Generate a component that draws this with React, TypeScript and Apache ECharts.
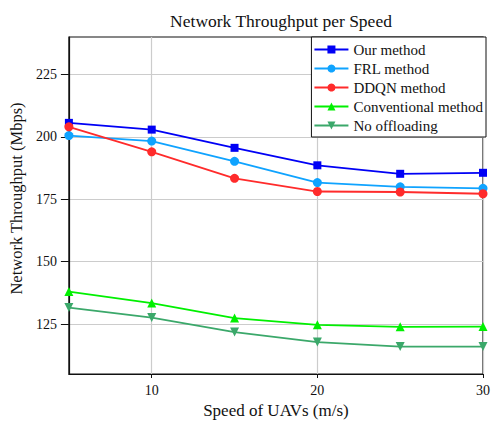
import React, { useEffect, useRef } from "react";
import * as echarts from "echarts";

const speeds = [5, 10, 15, 20, 25, 30];
const ourMethod = [205.6, 202.9, 195.6, 188.6, 185.2, 185.6];
const frlMethod = [200.5, 198.3, 190.2, 181.7, 180.0, 179.4];
const ddqnMethod = [204.0, 194.0, 183.4, 178.1, 177.9, 177.2];
const conventional = [138.0, 133.4, 127.4, 124.7, 123.9, 124.0];
const noOffloading = [131.6, 127.6, 121.8, 117.8, 116.0, 116.0];

const xTicks = [10, 20, 30];
const yTicks = [125, 150, 175, 200, 225];

const FONT = "Liberation Serif";

const seriesDefs = [
  { name: "Our method", data: ourMethod, color: "#0000F5", symbol: "rect", rotate: 0, size: 8 },
  { name: "FRL method", data: frlMethod, color: "#0FA3FF", symbol: "circle", rotate: 0, size: 9 },
  { name: "DDQN method", data: ddqnMethod, color: "#FF2B2B", symbol: "circle", rotate: 0, size: 9 },
  { name: "Conventional method", data: conventional, color: "#00F000", symbol: "triangle", rotate: 0, size: 9 },
  { name: "No offloading", data: noOffloading, color: "#3BA86A", symbol: "triangle", rotate: 180, size: 9 },
];

export default function App() {
  const ref = useRef<HTMLDivElement>(null);

  useEffect(() => {
    if (!ref.current) return;
    const chart = echarts.init(ref.current, null, { renderer: "svg" });
    const labelStyle = { fontFamily: FONT, fontSize: 14, color: "#111" };
    chart.setOption({
      animation: false,
      backgroundColor: "#ffffff",
      textStyle: { fontFamily: FONT },
      title: {
        text: "Network Throughput per Speed",
        left: 276,
        textAlign: "center",
        top: 7,
        textStyle: { fontFamily: FONT, fontSize: 17.5, fontWeight: "normal", color: "#111" },
      },
      grid: {
        left: 67,
        right: 7,
        top: 37,
        bottom: 53,
        show: true,
        borderColor: "#111",
        borderWidth: 1.2,
        backgroundColor: "transparent",
      },
      legend: {
        orient: "vertical",
        right: 7,
        top: 37,
        itemWidth: 34,
        itemHeight: 10,
        itemGap: 4,
        padding: [5, 3, 4, 2],
        borderColor: "#111",
        borderWidth: 1,
        backgroundColor: "#ffffff",
        textStyle: { fontFamily: FONT, fontSize: 15, color: "#111" },
        data: seriesDefs.map((s) => s.name),
      },
      xAxis: {
        type: "value",
        min: 5,
        max: 30,
        name: "Speed of UAVs (m/s)",
        nameLocation: "middle",
        nameGap: 17,
        nameTextStyle: { fontFamily: FONT, fontSize: 17, color: "#111" },
        axisLine: { show: true, lineStyle: { color: "#111", width: 1.2 } },
        axisTick: { show: true, customValues: xTicks, length: 4, lineStyle: { color: "#111" } },
        axisLabel: { customValues: xTicks, margin: 9, ...labelStyle },
        splitLine: { show: true, lineStyle: { color: "#cccccc", width: 1.2 } },
      },
      yAxis: {
        type: "value",
        min: 105,
        max: 240,
        name: "Network Throughput (Mbps)",
        nameLocation: "middle",
        nameGap: 36,
        nameTextStyle: { fontFamily: FONT, fontSize: 16.5, color: "#111", padding: [0, 0, 0, 14] },
        axisLine: { show: true, lineStyle: { color: "#111", width: 1.2 } },
        axisTick: { show: true, customValues: yTicks, length: 8, lineStyle: { color: "#111" } },
        axisLabel: { customValues: yTicks, margin: 12, ...labelStyle },
        splitLine: { show: true, lineStyle: { color: "#cccccc", width: 1.2 } },
      },
      series: seriesDefs.map((s) => ({
        name: s.name,
        type: "line",
        data: speeds.map((x, i) => [x, s.data[i]]),
        symbol: s.symbol,
        symbolSize: s.size,
        symbolRotate: s.rotate,
        showAllSymbol: true,
        clip: false,
        lineStyle: { color: s.color, width: 1.8 },
        itemStyle: { color: s.color },
      })),
    });
    return () => chart.dispose();
  }, []);

  return <div ref={ref} style={{ width: 493, height: 427, position: "absolute", left: 0, top: 0 }} />;
}
